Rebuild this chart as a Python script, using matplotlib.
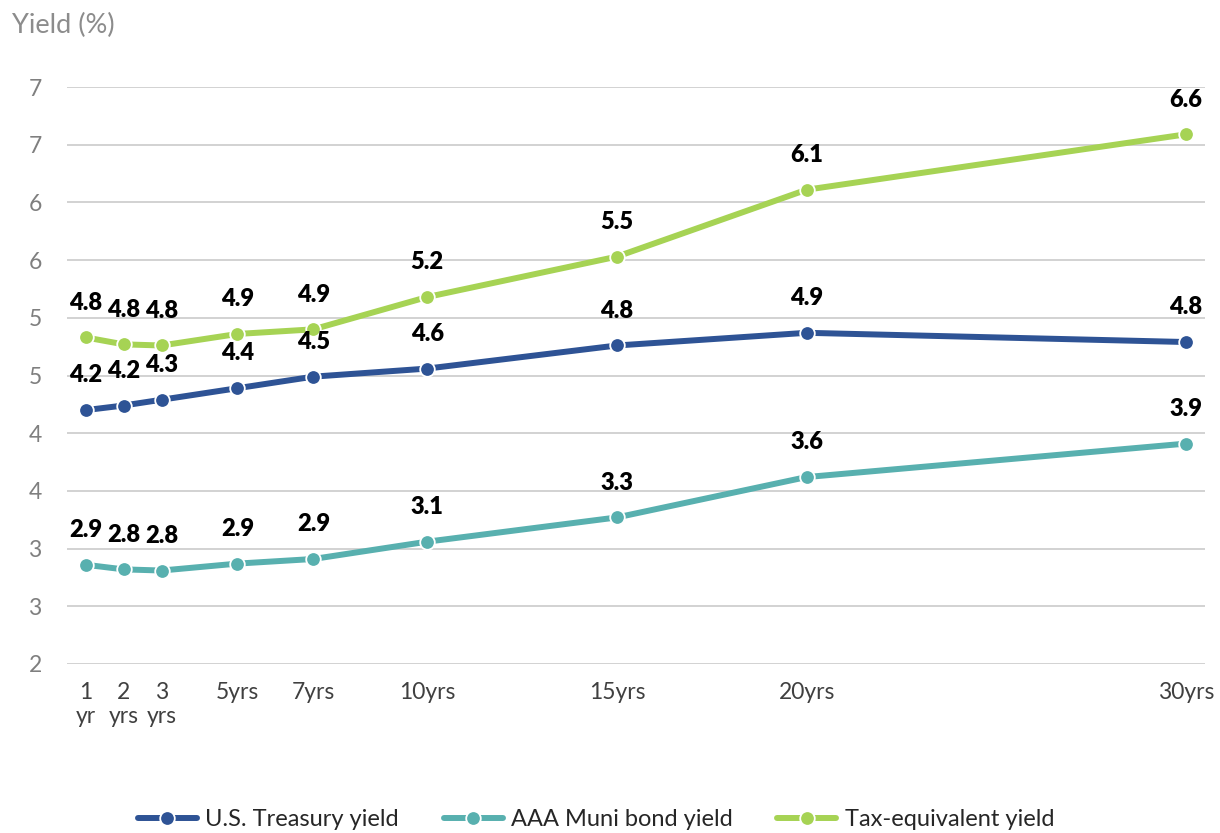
import matplotlib.pyplot as plt

plt.rcParams['font.family'] = ['Lato', 'DejaVu Sans']

# maturities (years) and their axis labels
maturity_years = [1, 2, 3, 5, 7, 10, 15, 20, 30]
maturity_labels = ['1\nyr', '2\nyrs', '3\nyrs', '5yrs', '7yrs', '10yrs', '15yrs', '20yrs', '30yrs']

# yields in percent
treasury_yield = [4.20, 4.24, 4.29, 4.39, 4.49, 4.56, 4.76, 4.87, 4.79]
muni_yield = [2.86, 2.82, 2.81, 2.87, 2.91, 3.06, 3.27, 3.62, 3.91]
tax_equiv_yield = [4.83, 4.77, 4.76, 4.86, 4.90, 5.18, 5.53, 6.11, 6.59]

series_names = ['U.S. Treasury yield', 'AAA Muni bond yield', 'Tax-equivalent yield']
series_colors = ['#2E5395', '#58B0AF', '#A6D354']

y_ticks = [2, 2.5, 3, 3.5, 4, 4.5, 5, 5.5, 6, 6.5, 7]
# whole-number labels, rounded half up
y_tick_labels = [str(int(v + 0.5)) for v in y_ticks]

fig = plt.figure(figsize=(12.2, 8.33), dpi=100)
ax = fig.add_axes([66.7 / 1220, 1 - 664 / 833, (1205 - 66.7) / 1220, (664 - 87) / 833])

for vals, name, color in zip([treasury_yield, muni_yield, tax_equiv_yield], series_names, series_colors):
    ax.plot(maturity_years, vals, color=color, lw=4.3, marker='o', ms=10.5,
            mfc=color, mec='white', mew=1.3, label=name, zorder=3, solid_capstyle='round')
    for x, v in zip(maturity_years, vals):
        ax.annotate(f'{v:.1f}', (x, v), xytext=(0, 25), textcoords='offset points',
                    ha='center', va='center', fontsize=17, fontweight='heavy',
                    color='black', zorder=4)

ax.set_xlim(0.5, 30.5)
ax.set_ylim(2, 7)
ax.set_yticks(y_ticks)
ax.set_yticklabels(y_tick_labels)
ax.set_xticks(maturity_years)
ax.set_xticklabels(maturity_labels, linespacing=1.2)

ax.grid(axis='y', color='#C6C6C6', lw=1.1)
ax.set_axisbelow(True)
for s in ax.spines.values():
    s.set_visible(False)
ax.tick_params(axis='both', length=0, labelsize=16.5, labelcolor='#7F7F7F')
ax.tick_params(axis='y', pad=18)
ax.tick_params(axis='x', pad=13, labelcolor='#404040')
for t in ax.get_xticklabels():
    t.set_verticalalignment('top')

fig.text(12 / 1220, 1 - 25 / 833, 'Yield (%)', fontsize=19.5, color='#8C8C8C',
         ha='left', va='center')

fig.legend(loc='center', bbox_to_anchor=(596 / 1220, 13 / 833), ncol=3, frameon=False,
           fontsize=17, handlelength=2.5, handletextpad=0.35, columnspacing=1.9,
           labelcolor='#262626')

fig.savefig('out.png', dpi=100)
